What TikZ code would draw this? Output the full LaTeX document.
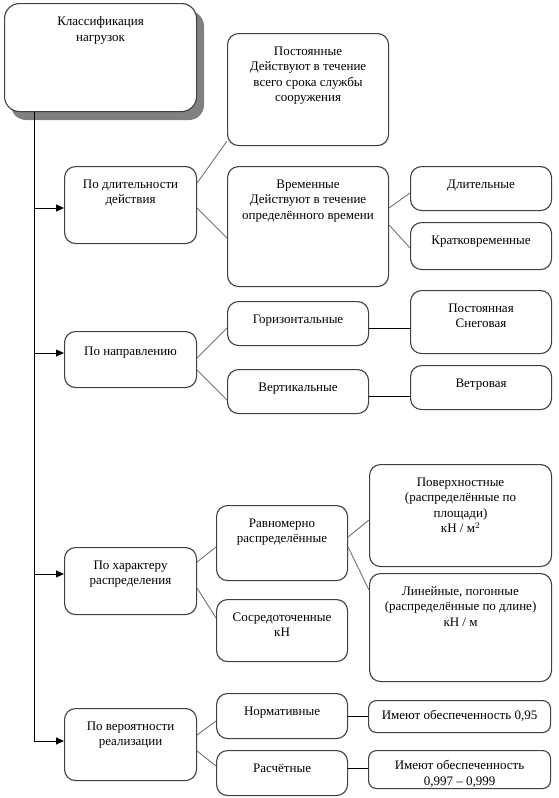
\documentclass[tikz,border=0pt]{standalone}
\usepackage{fontspec}
\setmainfont{Liberation Serif}
\usetikzlibrary{arrows.meta}
\tikzset{
  bx/.style={draw=black!75, line width=1.1pt, rounded corners=11pt, inner sep=0pt, anchor=north west, fill=white},
  link/.style={draw=black!55, line width=0.9pt},
  hlink/.style={draw=black, line width=0.9pt},
  arr/.style={draw=black, line width=0.9pt, -{Triangle[length=8pt,width=7pt]}},
}
\newcommand\mybox[7][bx]{%
  \node[#1] (#2) at (#3,-#4) {\begin{minipage}[t][#6pt][t]{#5pt}\centering\fontsize{13pt}{15.5pt}\selectfont\vspace*{13pt}#7\end{minipage}};}
\begin{document}
\begin{tikzpicture}[x=1pt,y=1pt]
\useasboundingbox (0,0) rectangle (559,-798);
% main box with shadow
\fill[black!50, rounded corners=15pt] (11,-11) rectangle (204,-120);
\mybox[bx, rounded corners=15pt]{main}{4}{3}{192}{108}{Классификация\\нагрузок}
% trunk
\coordinate (t0) at ([xshift=30]main.south west);
\coordinate (tend) at (34,-741);
\draw[hlink] (t0) -- (tend);
% level 1
\mybox{d}{64}{166}{132}{77}{По длительности\\действия}
\mybox{napr}{64}{331}{132}{56}{\vspace*{2pt}По направлению}
\mybox{har}{64}{547}{132}{67}{По характеру\\распределения}
\mybox{ver}{64}{708}{132}{72}{По вероятности\\реализации}
% arrows
\coordinate (a1) at ([yshift=-42]d.north west);
\coordinate (a2) at ([yshift=-22]napr.north west);
\coordinate (a3) at ([yshift=-27]har.north west);
\coordinate (a4) at ([yshift=-33]ver.north west);
\draw[arr] (t0 |- a1) -- (a1);
\draw[arr] (t0 |- a2) -- (a2);
\draw[arr] (t0 |- a3) -- (a3);
\draw[arr] (tend) -- (a4);
% group 1
\mybox{post}{227}{33}{161}{112}{Постоянные\\Действуют в течение\\всего срока службы\\сооружения}
\mybox{vrem}{227}{166}{161}{120}{Временные\\Действуют в течение\\определённого времени}
\mybox{dlit}{410}{166}{141}{44}{Длительные}
\mybox{krat}{410}{222}{141}{47}{Кратковременные}
\draw[link] ([yshift=-17]d.north east) -- ([yshift=5]post.south west);
\draw[link] ([yshift=-42]d.north east) -- ([yshift=-72]vrem.north west);
\draw[link] ([yshift=-42]vrem.north east) -- ([yshift=-27]dlit.north west);
\draw[link] ([yshift=-59]vrem.north east) -- ([yshift=-26]krat.north west);
% group 2
\mybox{gor}{227}{301}{141}{44}{Горизонтальные}
\mybox{vert}{227}{369}{141}{44}{Вертикальные}
\mybox{sneg}{410}{290}{141}{63}{Постоянная\\Снеговая}
\mybox{vetr}{410}{365}{141}{44}{Ветровая}
\draw[link] ([yshift=-27]napr.north east) -- ([yshift=-27]gor.north west);
\draw[link] ([yshift=-39]napr.north east) -- ([yshift=-31]vert.north west);
\draw[hlink] ([yshift=-27]gor.north east) -- ([yshift=-38]sneg.north west);
\draw[hlink] ([yshift=-27]vert.north east) -- ([yshift=-31]vetr.north west);
% group 3
\mybox{ravn}{216}{505}{131}{75}{Равномерно\\распределённые}
\mybox{sosr}{216}{599}{131}{62}{Сосредоточенные\\кН}
\mybox{pov}{369}{464}{182}{102}{Поверхностные\\(распределённые по\\площади)\\кН / м$^{2}$}
\mybox{lin}{369}{573}{182}{108}{Линейные, погонные\\(распределённые по длине)\\кН / м}
\draw[link] ([yshift=-15]har.north east) -- ([yshift=-42]ravn.north west);
\draw[link] ([yshift=-41]har.north east) -- ([yshift=-19]sosr.north west);
\draw[link] ([yshift=-32]ravn.north east) -- ([yshift=-56]pov.north west);
\draw[link] ([yshift=-42]ravn.north east) -- ([yshift=-17]lin.north west);
% group 4
\mybox{norm}{216}{693}{131}{45}{Нормативные}
\mybox{rasch}{216}{750}{131}{45}{Расчётные}
\mybox[bx, rounded corners=8pt]{im1}{368}{700}{182}{32}{\vspace*{-3pt}Имеют обеспеченность 0,95}
\mybox[bx, rounded corners=8pt]{im2}{368}{750}{182}{38}{\vspace*{-3pt}Имеют обеспеченность\\0,997 – 0,999}
\draw[link] ([yshift=-27]ver.north east) -- ([yshift=-28]norm.north west);
\draw[link] ([yshift=-43]ver.north east) -- ([yshift=-16]rasch.north west);
\draw[hlink] ([yshift=-23]norm.north east) -- ([yshift=-16]im1.north west);
\draw[hlink] ([yshift=-18]rasch.north east) -- ([yshift=-18]im2.north west);
\end{tikzpicture}
\end{document}
